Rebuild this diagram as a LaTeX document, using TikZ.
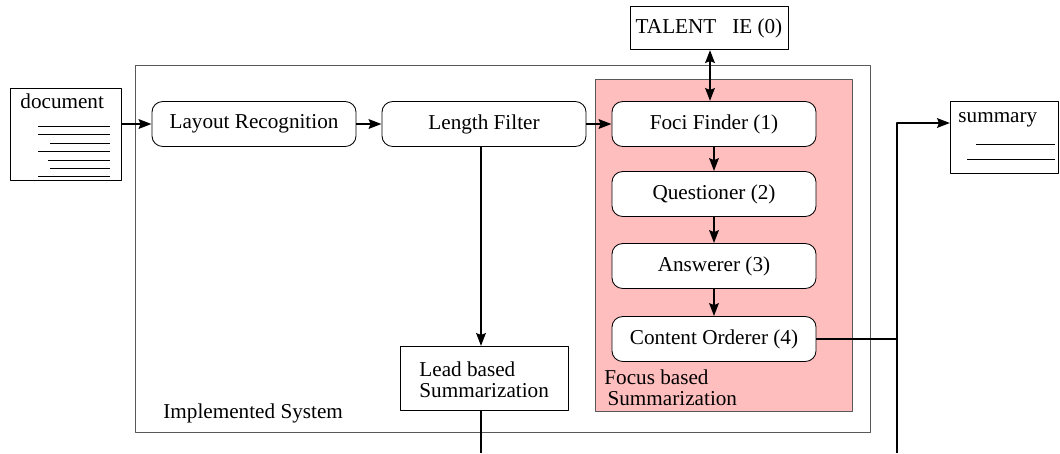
\documentclass[tikz,border=0pt]{standalone}
\usepackage{fontspec}
\setmainfont{Liberation Serif}
\usetikzlibrary{arrows.meta}

\begin{document}
\begin{tikzpicture}[
        x={(0.472pt,0pt)}, y={(0pt,-0.472pt)},
        line join=round,
        module/.style = {draw, rounded corners=5pt, fill=white, minimum width=96.3pt, minimum height=21.2pt, inner sep=0pt},
        plainbox/.style = {draw, fill=white, inner sep=0pt},
        tip/.style = {-{Stealth[length=6pt, width=4.4pt, inset=0.8pt]}},
        flow/.style = {line width=1.35pt, tip},
        bus/.style = {line width=1.35pt},
        textline/.style = {line width=0.4pt},
        caption/.style = {inner sep=0pt, align=left}
    ]
        \useasboundingbox (0,0) rectangle (1060,453);

        % containers
        \draw[gray!70!black, thin] (135,65) rectangle (870,432);
        \draw[gray!70!black, thin, fill={rgb,255:red,255;green,190;blue,190}] (595,79) rectangle (852,411);
        \node[caption, anchor=base west] (impl) at (163,418) {Implemented System};
        \node[caption, anchor=north west] (focuslbl) at (604,369) {Focus based\\[-2pt]\hspace{1.5pt}Summarization};

        % document and summary
        \node[plainbox, minimum width=52.4pt, minimum height=43.4pt] (doc) at (66,134) {};
        \node[caption, anchor=base west] (doctxt) at (20,108) {document};
        \foreach \y/\x in {126/38, 134/38, 143/50, 151/38, 160/48, 168/50, 176/38}
            \draw[textline] (\x,\y) -- (110,\y);

        \node[plainbox, minimum width=51pt, minimum height=34pt] (sum) at (1004,137) {};
        \node[caption, anchor=base west] (sumtxt) at (958,122) {summary};
        \draw[textline] (976,144) -- (1055,144);
        \draw[textline] (967,159) -- (1055,159);

        % modules
        \node[module] (layout) at (254,124) {Layout Recognition};
        \node[module] (length) at (484,124) {Length Filter};
        \node[module] (foci) at (714,124) {Foci Finder (1)};
        \node[module] (quest) at (714,194) {Questioner (2)};
        \node[module] (answ) at (714,266) {Answerer (3)};
        \node[module] (order) at (714,339) {Content Orderer (4)};

        \node[plainbox, minimum width=74.6pt, minimum height=20.3pt] (talent) at (709,28) {TALENT\ \ \ IE (0)};
        \node[plainbox, minimum width=79.3pt, minimum height=30.2pt] (lead) at (484,378) {};
        \node[caption, anchor=north west] (leadtxt) at (419,361) {Lead based\\[-2pt]Summarization};

        \coordinate (docout) at (122,124);
        \coordinate (talentdn) at (710,50);
        \coordinate (fociup) at (710,101);
        \coordinate (leadin) at (481,146);
        \coordinate (leadtop) at (481,346);
        \coordinate (leadbot) at (481,410);
        \coordinate (leadend) at (481,453);
        \coordinate (join) at (897,339);
        \coordinate (busend) at (897,453);
        \coordinate (sumin) at (950,123);

        % connectors
        \draw[flow] (docout) -- (layout);
        \draw[flow] (layout) -- (length);
        \draw[flow] (length) -- (foci);
        \draw[flow, {Stealth[length=6pt, width=4.4pt, inset=0.8pt]}-{Stealth[length=6pt, width=4.4pt, inset=0.8pt]}] (talentdn) -- (fociup);
        \draw[flow] (foci) -- (quest);
        \draw[flow] (quest) -- (answ);
        \draw[flow] (answ) -- (order);
        \draw[flow] (leadin) -- (leadtop);
        \draw[bus] (leadbot) -- (leadend);
        \draw[bus] (order.east) -- (join);
        \draw[flow] (busend) |- (sumin);

    \end{tikzpicture}
\end{document}
